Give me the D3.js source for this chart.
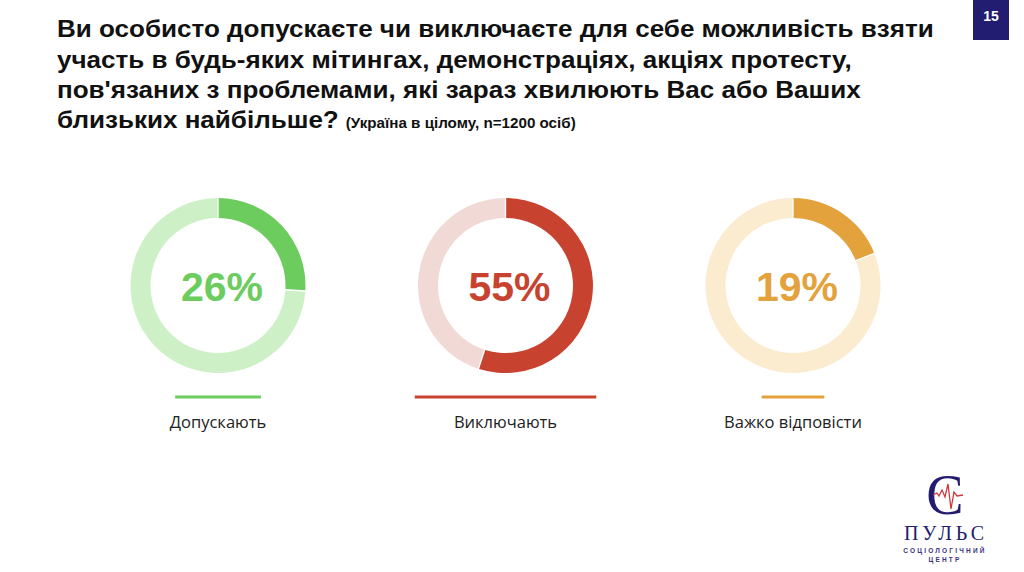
<!DOCTYPE html>
<html lang="uk">
<head>
<meta charset="utf-8">
<title>Мітинги, демонстрації, акції протесту</title>
<script src="https://d3js.org/d3.v7.min.js"></script>
<style>
  body { margin: 0; background: #fff; }
  svg { display: block; }
</style>
</head>
<body>
<script>
// data
var categories = ["Допускають", "Виключають", "Важко відповісти"];
var values = [26, 55, 19];
var darkColors = ["#6dcc5e", "#c8432f", "#e3a23b"];
var lightColors = ["#cdf0c7", "#f1d9d5", "#fbebcf"];
var titleLines = [
  "Ви особисто допускаєте чи виключаєте для себе можливість взяти",
  "участь в будь-яких мітингах, демонстраціях, акціях протесту,",
  "пов'язаних з проблемами, які зараз хвилюють Вас або Ваших",
  "близьких найбільше?"
];
var subtitle = "(Україна в цілому, n=1200 осіб)";
var pageNo = "15";

var w = 1024, h = 572;

var svg = d3.select("body").append("svg")
  .attr("width", w)
  .attr("height", h);

// title (the slide font is a bit wider than Liberation Sans, so stretch it)
var sx = 1.085;
var title = svg.append("g")
  .attr("transform", "scale(" + sx + ",1)");
titleLines.forEach(function (line, i) {
  var t = title.append("text")
    .attr("x", 57 / sx)
    .attr("y", 37.3 + i * 30.3)
    .attr("font-family", "Liberation Sans, Arial, sans-serif")
    .attr("font-weight", "bold")
    .attr("font-size", 24)
    .attr("fill", "#111")
    .text(line);
  if (i == titleLines.length - 1) {
    t.append("tspan")
      .attr("font-size", 14)
      .attr("dx", 7 / sx)
      .text(subtitle);
  }
});

// page number
svg.append("rect")
  .attr("x", 973).attr("y", 0)
  .attr("width", 36).attr("height", 40)
  .attr("fill", "#221d70");
svg.append("text")
  .attr("x", 991).attr("y", 21)
  .attr("text-anchor", "middle")
  .attr("font-family", "Liberation Sans, Arial, sans-serif")
  .attr("font-weight", "bold")
  .attr("font-size", 14)
  .attr("fill", "#fff")
  .text(pageNo);

// donuts
var x = d3.scalePoint().domain(categories).range([218, 793]);
var cy = 285.5;
var rOuter = 87.5, rInner = 67.5;

var pie = d3.pie().sort(null).value(function (d) { return d; });
var arc = d3.arc().innerRadius(rInner).outerRadius(rOuter).padAngle(0.012);

// underline width follows the value
var lineW = d3.scaleLinear().domain([0, 100]).range([0, 330]);

categories.forEach(function (c, i) {
  var g = svg.append("g")
    .attr("transform", "translate(" + x(c) + "," + cy + ")");

  g.selectAll("path")
    .data(pie([values[i], 100 - values[i]]))
    .enter()
    .append("path")
    .attr("d", arc)
    .attr("fill", function (d, j) { return j == 0 ? darkColors[i] : lightColors[i]; });

  g.append("text")
    .attr("x", 4)
    .attr("y", 15)
    .attr("text-anchor", "middle")
    .attr("font-family", "Liberation Sans, Arial, sans-serif")
    .attr("font-weight", "bold")
    .attr("font-size", 41)
    .attr("fill", darkColors[i])
    .text(values[i] + "%");

  g.append("line")
    .attr("x1", -lineW(values[i]) / 2)
    .attr("x2", lineW(values[i]) / 2)
    .attr("y1", 111.5).attr("y2", 111.5)
    .attr("stroke", darkColors[i])
    .attr("stroke-width", 3);

  g.append("text")
    .attr("y", 142)
    .attr("text-anchor", "middle")
    .attr("font-family", "Open Sans, Noto Sans, sans-serif")
    .attr("font-size", 16.5)
    .attr("fill", "#222")
    .text(c);
});

// logo
var logo = svg.append("g");
logo.append("text")
  .attr("x", 945).attr("y", 514)
  .attr("text-anchor", "middle")
  .attr("font-family", "Liberation Serif, serif")
  .attr("font-size", 56)
  .attr("fill", "#231c6e")
  .text("С");
logo.append("polyline")
  .attr("points", "933,495 937,493 939,496 942,490 945,497 948,484 951,509 954,492 957,496 963,495")
  .attr("fill", "none")
  .attr("stroke", "#d0373a")
  .attr("stroke-width", 1.3);
logo.append("text")
  .attr("x", 946).attr("y", 540)
  .attr("text-anchor", "middle")
  .attr("font-family", "Liberation Serif, serif")
  .attr("font-size", 20)
  .attr("letter-spacing", 4)
  .attr("fill", "#231c6e")
  .text("ПУЛЬС");
logo.append("text")
  .attr("x", 945).attr("y", 552.5)
  .attr("text-anchor", "middle")
  .attr("font-family", "Liberation Sans, Arial, sans-serif")
  .attr("font-weight", "bold")
  .attr("font-size", 6.5)
  .attr("letter-spacing", 2.2)
  .attr("fill", "#3a3380")
  .text("СОЦІОЛОГІЧНИЙ");
logo.append("text")
  .attr("x", 945).attr("y", 561.5)
  .attr("text-anchor", "middle")
  .attr("font-family", "Liberation Sans, Arial, sans-serif")
  .attr("font-weight", "bold")
  .attr("font-size", 6.5)
  .attr("letter-spacing", 2.2)
  .attr("fill", "#3a3380")
  .text("ЦЕНТР");
</script>
</body>
</html>
